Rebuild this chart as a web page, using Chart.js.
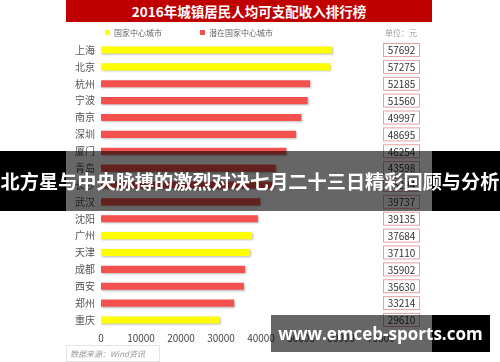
<!DOCTYPE html>
<html>
<head>
<meta charset="utf-8">
<script src="https://cdn.jsdelivr.net/npm/chart.js@4"></script>
<style>
  html, body { margin: 0; padding: 0; background: #fff; }
  body { width: 500px; height: 362px; position: relative; overflow: hidden; font-family: "Noto Sans CJK SC", sans-serif; }
  #wrap { position: absolute; left: 0; top: 0; width: 500px; height: 362px; }
  .title { position: absolute; left: 66px; top: 0; width: 366px; height: 22px; background: #C00000; color: #fff;
           font-weight: bold; font-size: 13.5px; line-height: 22px; text-align: center; }
  .leg { position: absolute; top: 27px; font-size: 8px; color: #666; line-height: 12px; }
  .leg i { display: inline-block; width: 5px; height: 5px; margin-right: 4px; vertical-align: 1px; }
  .unit { position: absolute; left: 385px; top: 27px; font-size: 8px; color: #999; line-height: 12px; }
  .source { position: absolute; left: 66px; top: 345px; width: 94px; height: 17px; border: 1px solid #e4e4e4;
            box-sizing: border-box; font-size: 8px; color: #999; font-style: italic; line-height: 16px; padding-left: 3px; }
  .banner { position: absolute; left: 0; top: 151px; width: 500px; height: 60px;
            background: linear-gradient(to right, #000 0 66px, rgba(0,0,0,0.6) 66px 432px, #000 432px);
            color: #fff; font-weight: bold; font-size: 19.2px; line-height: 60px; text-align: center; white-space: nowrap; }
  .mark { position: absolute; left: 271px; top: 315px; width: 219px; height: 37px;
          background: linear-gradient(to right, rgba(0,0,0,0.6) 0 161px, #000 161px);
          color: #fff; font-weight: bold; font-size: 17px; line-height: 37px; text-align: center; font-family: "Open Sans", "DejaVu Sans", sans-serif; }
</style>
</head>
<body>
<div id="wrap"><canvas id="chart" width="500" height="362"></canvas></div>
<div class="title">2016年城镇居民人均可支配收入排行榜</div>
<div class="leg" style="left:105px"><i style="background:#FFFF00"></i>国家中心城市</div>
<div class="leg" style="left:200px"><i style="background:#F4514E"></i>潜在国家中心城市</div>
<div class="unit">单位：元</div>
<div class="source">数据来源：Wind资讯</div>
<div class="banner">北方星与中央脉搏的激烈对决七月二十三日精彩回顾与分析</div>
<div class="mark">www.emceb-sports.com</div>
<script>
// data (row 9 is hidden under the banner: label and value are a guess)
const cities = ["上海", "北京", "杭州", "宁波", "南京", "深圳", "厦门", "青岛", "长沙", "武汉", "沈阳", "广州", "天津", "成都", "西安", "郑州", "重庆"];
const incomes = [57692, 57275, 52185, 51560, 49997, 48695, 46254, 43598, 43294, 39737, 39135, 37684, 37110, 35902, 35630, 33214, 29610];
// 1 = 国家中心城市, 0 = 潜在国家中心城市
const cityTypes = [1, 1, 0, 0, 0, 0, 0, 0, 0, 0, 0, 1, 1, 0, 0, 0, 1];
const xTicks = [0, 10000, 20000, 30000, 40000, 50000, 60000, 70000];

const YELLOW = "#FFFF00";
const RED = "#F4514E";
const FONT = '"Noto Sans CJK SC", sans-serif';

// shadow under bars
const barShadow = {
  id: "barShadow",
  beforeDatasetsDraw(chart) {
    const ctx = chart.ctx;
    ctx.save();
    ctx.shadowColor = "rgba(0,0,0,0.28)";
    ctx.shadowBlur = 2;
    ctx.shadowOffsetX = 1;
    ctx.shadowOffsetY = 1;
  },
  afterDatasetsDraw(chart) {
    chart.ctx.restore();
  }
};

// value boxes on the right
const valueBoxes = {
  id: "valueBoxes",
  afterDraw(chart) {
    const ctx = chart.ctx;
    const y = chart.scales.y;
    ctx.save();
    ctx.font = "10px " + FONT;
    ctx.textAlign = "center";
    ctx.textBaseline = "middle";
    incomes.forEach((v, i) => {
      const cy = y.getPixelForValue(i);
      ctx.fillStyle = "#fff";
      ctx.fillRect(383.5, cy - 6.5, 36, 13);
      ctx.strokeStyle = "#E3A2A2";
      ctx.lineWidth = 1;
      ctx.strokeRect(383.5, cy - 6.5, 36, 13);
      ctx.fillStyle = "#333";
      ctx.fillText(String(v), 401.5, cy + 0.5);
    });
    ctx.restore();
  }
};

new Chart(document.getElementById("chart"), {
  type: "bar",
  data: {
    labels: cities,
    datasets: [{
      data: incomes,
      backgroundColor: cityTypes.map(t => (t ? YELLOW : RED)),
      barThickness: 6.5,
      borderWidth: 0
    }]
  },
  options: {
    indexAxis: "y",
    responsive: false,
    animation: false,
    devicePixelRatio: 1,
    layout: { padding: { left: 0, right: 119, top: 41.6, bottom: 13.6 } },
    plugins: {
      legend: { display: false },
      tooltip: { enabled: false }
    },
    scales: {
      x: {
        min: 0,
        max: 70000,
        afterBuildTicks: s => { s.ticks = xTicks.map(v => ({ value: v })); },
        afterFit: s => { s.height = 20; },
        grid: { display: false, drawTicks: false },
        border: { display: false },
        ticks: {
          color: "#444",
          font: { family: FONT, size: 10 },
          padding: 4,
          maxRotation: 0,
          autoSkip: false,
          callback: v => String(v)
        }
      },
      y: {
        afterFit: s => { s.width = 101; },
        grid: { display: false, drawTicks: false },
        border: { display: false },
        ticks: { color: "#555", font: { family: FONT, size: 10 }, padding: 6 }
      }
    }
  },
  plugins: [barShadow, valueBoxes]
});
</script>
</body>
</html>
